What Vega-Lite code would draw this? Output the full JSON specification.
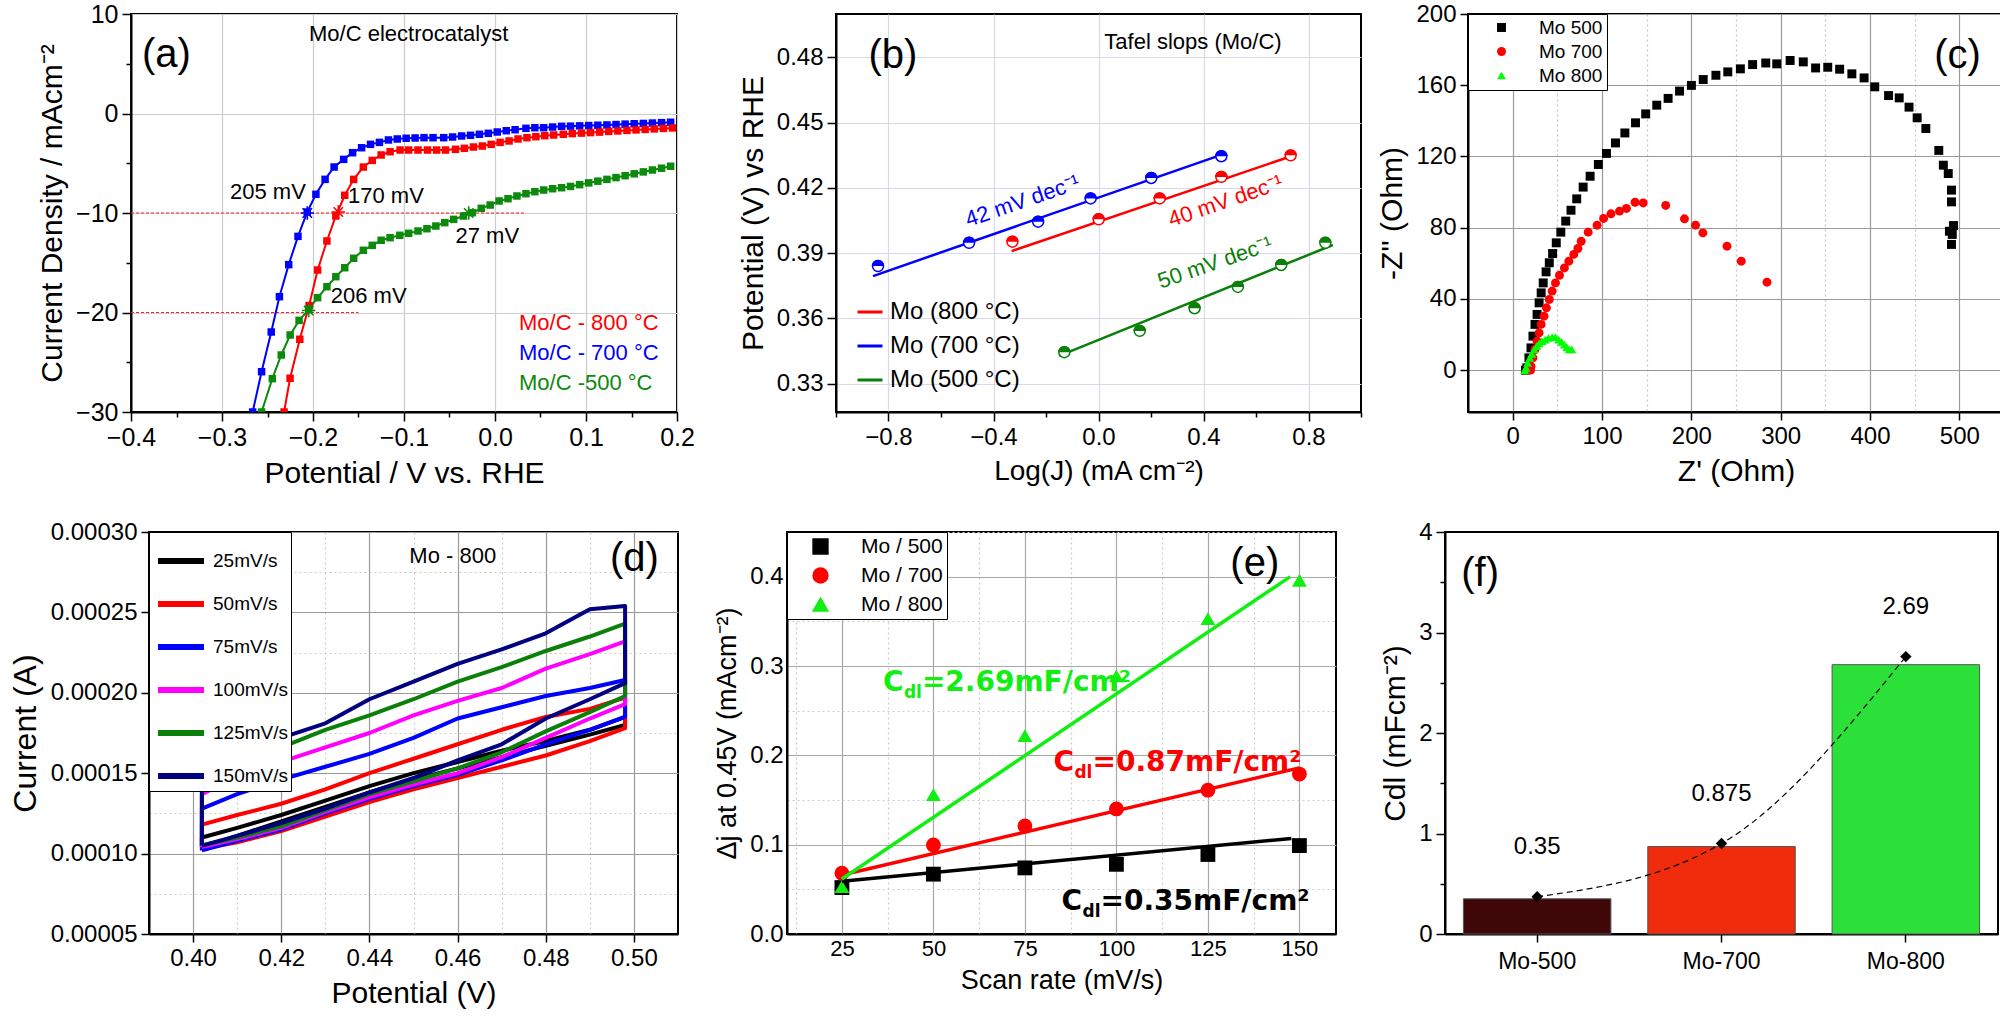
{
  "$schema": "https://vega.github.io/schema/vega-lite/v6.json",
  "background": "white",
  "padding": {"left": 8, "top": 1, "right": 0, "bottom": 0},
  "config": {
    "font": "Liberation Sans",
    "view": {"stroke": "black", "strokeWidth": 2},
    "axis": {
      "domainColor": "black", "domainWidth": 2, "tickColor": "black", "tickWidth": 1.5, "tickSize": 8,
      "labelColor": "black", "titleColor": "black", "labelFontSize": 24, "titleFontSize": 30,
      "titleFontWeight": "normal", "labelFlush": false, "labelOverlap": false, "labelPadding": 4,
      "titlePadding": 8, "gridColor": "#cccccc", "gridWidth": 1.2
    },
    "legend": {"labelColor": "black", "labelFont": "Liberation Sans"},
    "text": {"color": "black"}
  },
  "datasets": {
    "a_curves": [
      {"s":"700","x":-0.2663,"y":-30},{"s":"700","x":-0.2565,"y":-25.95},{"s":"700","x":-0.2459,"y":-21.96},{"s":"700","x":-0.2369,"y":-18.41},
      {"s":"700","x":-0.2267,"y":-15.19},{"s":"700","x":-0.2165,"y":-12.35},{"s":"700","x":-0.2063,"y":-9.9},{"s":"700","x":-0.1968,"y":-8.12},
      {"s":"700","x":-0.1867,"y":-6.62},{"s":"700","x":-0.1768,"y":-5.38},{"s":"700","x":-0.1663,"y":-4.61},{"s":"700","x":-0.1565,"y":-3.94},
      {"s":"700","x":-0.1466,"y":-3.44},{"s":"700","x":-0.1368,"y":-3.1},{"s":"700","x":-0.127,"y":-2.9},{"s":"700","x":-0.1171,"y":-2.66},
      {"s":"700","x":-0.1074,"y":-2.56},{"s":"700","x":-0.0976,"y":-2.49},{"s":"700","x":-0.0878,"y":-2.46},{"s":"700","x":-0.078,"y":-2.43},
      {"s":"700","x":-0.0681,"y":-2.43},{"s":"700","x":-0.0564,"y":-2.43},{"s":"700","x":-0.0466,"y":-2.36},{"s":"700","x":-0.0367,"y":-2.26},
      {"s":"700","x":-0.0269,"y":-2.19},{"s":"700","x":-0.0171,"y":-2.09},{"s":"700","x":-0.0073,"y":-1.99},{"s":"700","x":0.0025,"y":-1.86},
      {"s":"700","x":0.0124,"y":-1.73},{"s":"700","x":0.0221,"y":-1.63},{"s":"700","x":0.034,"y":-1.49},{"s":"700","x":0.0438,"y":-1.43},
      {"s":"700","x":0.0535,"y":-1.43},{"s":"700","x":0.0633,"y":-1.36},{"s":"700","x":0.0732,"y":-1.29},{"s":"700","x":0.083,"y":-1.27},
      {"s":"700","x":0.093,"y":-1.24},{"s":"700","x":0.103,"y":-1.21},{"s":"700","x":0.113,"y":-1.18},{"s":"700","x":0.123,"y":-1.15},
      {"s":"700","x":0.133,"y":-1.11},{"s":"700","x":0.143,"y":-1.07},{"s":"700","x":0.153,"y":-1.03},{"s":"700","x":0.163,"y":-1.0},
      {"s":"700","x":0.173,"y":-0.96},{"s":"700","x":0.183,"y":-0.92},{"s":"700","x":0.193,"y":-0.88},
      {"s":"800","x":-0.2318,"y":-30},{"s":"800","x":-0.2252,"y":-26.61},{"s":"800","x":-0.2145,"y":-22.69},{"s":"800","x":-0.2043,"y":-19.3},
      {"s":"800","x":-0.1949,"y":-15.73},{"s":"800","x":-0.1847,"y":-12.81},{"s":"800","x":-0.1749,"y":-10.3},{"s":"800","x":-0.1651,"y":-8.22},
      {"s":"800","x":-0.1553,"y":-6.62},{"s":"800","x":-0.1447,"y":-5.38},{"s":"800","x":-0.1349,"y":-4.71},{"s":"800","x":-0.1251,"y":-4.17},
      {"s":"800","x":-0.1153,"y":-3.84},{"s":"800","x":-0.1043,"y":-3.67},{"s":"800","x":-0.0949,"y":-3.67},{"s":"800","x":-0.0846,"y":-3.67},
      {"s":"800","x":-0.0741,"y":-3.67},{"s":"800","x":-0.0642,"y":-3.67},{"s":"800","x":-0.0544,"y":-3.67},{"s":"800","x":-0.0434,"y":-3.6},
      {"s":"800","x":-0.0336,"y":-3.5},{"s":"800","x":-0.0237,"y":-3.37},{"s":"800","x":-0.0139,"y":-3.27},{"s":"800","x":-0.0042,"y":-3.1},
      {"s":"800","x":0.0056,"y":-2.9},{"s":"800","x":0.0155,"y":-2.76},{"s":"800","x":0.0253,"y":-2.56},{"s":"800","x":0.0351,"y":-2.43},
      {"s":"800","x":0.0449,"y":-2.33},{"s":"800","x":0.0547,"y":-2.23},{"s":"800","x":0.0645,"y":-2.16},{"s":"800","x":0.0751,"y":-2.09},
      {"s":"800","x":0.085,"y":-2.02},{"s":"800","x":0.095,"y":-1.97},{"s":"800","x":0.105,"y":-1.92},{"s":"800","x":0.115,"y":-1.87},
      {"s":"800","x":0.125,"y":-1.8},{"s":"800","x":0.135,"y":-1.75},{"s":"800","x":0.145,"y":-1.7},{"s":"800","x":0.155,"y":-1.65},
      {"s":"800","x":0.165,"y":-1.6},{"s":"800","x":0.175,"y":-1.55},{"s":"800","x":0.185,"y":-1.5},{"s":"800","x":0.195,"y":-1.45},
      {"s":"500","x":-0.2565,"y":-30},{"s":"500","x":-0.2447,"y":-26.65},{"s":"500","x":-0.2349,"y":-24.27},{"s":"500","x":-0.2251,"y":-22.26},
      {"s":"500","x":-0.2153,"y":-20.79},{"s":"500","x":-0.2047,"y":-19.68},{"s":"500","x":-0.1949,"y":-18.51},{"s":"500","x":-0.1847,"y":-17.41},
      {"s":"500","x":-0.1749,"y":-16.4},{"s":"500","x":-0.1651,"y":-15.5},{"s":"500","x":-0.1553,"y":-14.55},{"s":"500","x":-0.1447,"y":-13.75},
      {"s":"500","x":-0.1349,"y":-13.25},{"s":"500","x":-0.1251,"y":-12.74},{"s":"500","x":-0.1153,"y":-12.48},{"s":"500","x":-0.1046,"y":-12.24},
      {"s":"500","x":-0.0949,"y":-12.04},{"s":"500","x":-0.0846,"y":-11.81},{"s":"500","x":-0.0748,"y":-11.58},{"s":"500","x":-0.065,"y":-11.31},
      {"s":"500","x":-0.0552,"y":-10.97},{"s":"500","x":-0.0454,"y":-10.64},{"s":"500","x":-0.0347,"y":-10.3},{"s":"500","x":-0.0249,"y":-9.97},
      {"s":"500","x":-0.0151,"y":-9.53},{"s":"500","x":-0.0053,"y":-9.2},{"s":"500","x":0.0045,"y":-8.79},{"s":"500","x":0.0143,"y":-8.56},
      {"s":"500","x":0.0241,"y":-8.29},{"s":"500","x":0.034,"y":-8.06},{"s":"500","x":0.0438,"y":-7.86},{"s":"500","x":0.0535,"y":-7.69},
      {"s":"500","x":0.0633,"y":-7.56},{"s":"500","x":0.0732,"y":-7.46},{"s":"500","x":0.083,"y":-7.33},{"s":"500","x":0.093,"y":-7.15},
      {"s":"500","x":0.103,"y":-6.97},{"s":"500","x":0.113,"y":-6.8},{"s":"500","x":0.123,"y":-6.62},{"s":"500","x":0.133,"y":-6.44},
      {"s":"500","x":0.143,"y":-6.25},{"s":"500","x":0.153,"y":-6.06},{"s":"500","x":0.163,"y":-5.87},{"s":"500","x":0.173,"y":-5.68},
      {"s":"500","x":0.183,"y":-5.5},{"s":"500","x":0.193,"y":-5.3}
    ],
    "b_pts": [
      {"s":"Mo (700 °C)","x":-0.84,"y":0.3841},{"s":"Mo (700 °C)","x":-0.493,"y":0.3948},{"s":"Mo (700 °C)","x":-0.23,"y":0.4045},
      {"s":"Mo (700 °C)","x":-0.03,"y":0.4152},{"s":"Mo (700 °C)","x":0.201,"y":0.4246},{"s":"Mo (700 °C)","x":0.468,"y":0.4346},
      {"s":"Mo (800 °C)","x":-0.328,"y":0.3953},{"s":"Mo (800 °C)","x":0.0006,"y":0.4056},{"s":"Mo (800 °C)","x":0.233,"y":0.4152},
      {"s":"Mo (800 °C)","x":0.468,"y":0.4251},{"s":"Mo (800 °C)","x":0.732,"y":0.435},
      {"s":"Mo (500 °C)","x":-0.13,"y":0.3445},{"s":"Mo (500 °C)","x":0.157,"y":0.3543},{"s":"Mo (500 °C)","x":0.366,"y":0.3647},
      {"s":"Mo (500 °C)","x":0.531,"y":0.3745},{"s":"Mo (500 °C)","x":0.696,"y":0.3846},{"s":"Mo (500 °C)","x":0.864,"y":0.3948}
    ],
    "b_fit": [
      {"s":"Mo (800 °C)","x":-0.331,"y":0.391},{"s":"Mo (800 °C)","x":0.734,"y":0.4346},
      {"s":"Mo (700 °C)","x":-0.859,"y":0.3795},{"s":"Mo (700 °C)","x":0.462,"y":0.435},
      {"s":"Mo (500 °C)","x":-0.15,"y":0.3428},{"s":"Mo (500 °C)","x":0.893,"y":0.3938}
    ],
    "c_pts": [
      {"s":"Mo 500","x":14.3,"y":0},{"s":"Mo 500","x":15.9,"y":1.3},{"s":"Mo 500","x":18.2,"y":6.9},{"s":"Mo 500","x":20.5,"y":12.5},
      {"s":"Mo 500","x":22.7,"y":19.1},{"s":"Mo 500","x":25,"y":25.7},{"s":"Mo 500","x":27.3,"y":31.3},{"s":"Mo 500","x":29.6,"y":37.8},
      {"s":"Mo 500","x":31.9,"y":43.4},{"s":"Mo 500","x":34.2,"y":49},{"s":"Mo 500","x":37.4,"y":55.2},{"s":"Mo 500","x":41,"y":60.3},
      {"s":"Mo 500","x":44.7,"y":65.5},{"s":"Mo 500","x":48.8,"y":71.5},{"s":"Mo 500","x":53.9,"y":77.5},{"s":"Mo 500","x":59.4,"y":83.7},
      {"s":"Mo 500","x":65.3,"y":89.8},{"s":"Mo 500","x":71.7,"y":96.2},{"s":"Mo 500","x":78.9,"y":102.8},{"s":"Mo 500","x":86.7,"y":108.9},
      {"s":"Mo 500","x":95.9,"y":115.5},{"s":"Mo 500","x":105,"y":121.7},{"s":"Mo 500","x":115.1,"y":127.6},{"s":"Mo 500","x":125.6,"y":133.2},
      {"s":"Mo 500","x":137.5,"y":138.9},{"s":"Mo 500","x":148.9,"y":143.9},{"s":"Mo 500","x":161.3,"y":148.8},{"s":"Mo 500","x":174,"y":152.6},
      {"s":"Mo 500","x":186.8,"y":156.7},{"s":"Mo 500","x":200.1,"y":159.9},{"s":"Mo 500","x":213.3,"y":163.2},{"s":"Mo 500","x":227.5,"y":165.6},
      {"s":"Mo 500","x":240.8,"y":167.5},{"s":"Mo 500","x":254.9,"y":169.2},{"s":"Mo 500","x":268.6,"y":171.6},{"s":"Mo 500","x":283.3,"y":172.5},
      {"s":"Mo 500","x":295.6,"y":172},{"s":"Mo 500","x":310.6,"y":173.9},{"s":"Mo 500","x":325.3,"y":173.1},{"s":"Mo 500","x":339.1,"y":169.7},
      {"s":"Mo 500","x":352.7,"y":170.1},{"s":"Mo 500","x":366,"y":169},{"s":"Mo 500","x":379.7,"y":166.4},{"s":"Mo 500","x":393.4,"y":164.1},
      {"s":"Mo 500","x":405.3,"y":159.1},{"s":"Mo 500","x":420.8,"y":154.2},{"s":"Mo 500","x":432.7,"y":152.9},{"s":"Mo 500","x":443.7,"y":147.7},
      {"s":"Mo 500","x":452.8,"y":141.7},{"s":"Mo 500","x":462.5,"y":135.7},{"s":"Mo 500","x":477,"y":123.4},{"s":"Mo 500","x":482.1,"y":115.1},
      {"s":"Mo 500","x":487.6,"y":110.4},{"s":"Mo 500","x":491.2,"y":101.1},{"s":"Mo 500","x":491.2,"y":94.5},{"s":"Mo 500","x":493.5,"y":81.2},
      {"s":"Mo 500","x":488.9,"y":78},{"s":"Mo 500","x":492.1,"y":76.2},{"s":"Mo 500","x":491.2,"y":70.6},
      {"s":"Mo 700","x":20,"y":0},{"s":"Mo 700","x":20.5,"y":2.2},{"s":"Mo 700","x":22.7,"y":6.9},{"s":"Mo 700","x":25,"y":11.6},
      {"s":"Mo 700","x":27.3,"y":16.3},{"s":"Mo 700","x":29.6,"y":20.9},{"s":"Mo 700","x":31.9,"y":25.7},{"s":"Mo 700","x":35.1,"y":30.3},
      {"s":"Mo 700","x":37.8,"y":35},{"s":"Mo 700","x":41,"y":39.7},{"s":"Mo 700","x":44.2,"y":44.4},{"s":"Mo 700","x":47.9,"y":49},
      {"s":"Mo 700","x":52.4,"y":53.3},{"s":"Mo 700","x":57.9,"y":57.4},{"s":"Mo 700","x":62.9,"y":61.2},{"s":"Mo 700","x":68.4,"y":65},
      {"s":"Mo 700","x":73,"y":68.3},{"s":"Mo 700","x":76.7,"y":72.4},{"s":"Mo 700","x":84.5,"y":77.5},{"s":"Mo 700","x":94.5,"y":81.4},
      {"s":"Mo 700","x":101.8,"y":85.2},{"s":"Mo 700","x":110,"y":87.8},{"s":"Mo 700","x":119.6,"y":89.3},{"s":"Mo 700","x":127.4,"y":90.8},
      {"s":"Mo 700","x":137,"y":94.3},{"s":"Mo 700","x":146.1,"y":93.9},{"s":"Mo 700","x":171.3,"y":92.5},{"s":"Mo 700","x":192.3,"y":85},
      {"s":"Mo 700","x":204.7,"y":81.4},{"s":"Mo 700","x":212.9,"y":77.1},{"s":"Mo 700","x":239.9,"y":69.6},{"s":"Mo 700","x":255.9,"y":61.2},
      {"s":"Mo 700","x":284.7,"y":49.4},
      {"s":"Mo 800","x":13.4,"y":0},{"s":"Mo 800","x":15,"y":1.3},{"s":"Mo 800","x":16.8,"y":4.1},{"s":"Mo 800","x":19.1,"y":6.9},
      {"s":"Mo 800","x":21.4,"y":9.2},{"s":"Mo 800","x":24.1,"y":11.6},{"s":"Mo 800","x":26.9,"y":13.5},{"s":"Mo 800","x":29.6,"y":15},
      {"s":"Mo 800","x":32.8,"y":16.3},{"s":"Mo 800","x":36.5,"y":17.2},{"s":"Mo 800","x":40.1,"y":18.1},{"s":"Mo 800","x":44.2,"y":18.5},
      {"s":"Mo 800","x":47.9,"y":18.5},{"s":"Mo 800","x":51.5,"y":17.2},{"s":"Mo 800","x":54.8,"y":15.9},{"s":"Mo 800","x":57.9,"y":14.4},
      {"s":"Mo 800","x":60.7,"y":12.9},{"s":"Mo 800","x":63.4,"y":11.6},{"s":"Mo 800","x":66.2,"y":11.6}
    ],
    "d_cv": [
      {"r":"25mV/s","i":0,"x":0.402,"y":0.000104},{"r":"25mV/s","i":1,"x":0.41,"y":0.000111},{"r":"25mV/s","i":2,"x":0.42,"y":0.00012},
      {"r":"25mV/s","i":3,"x":0.43,"y":0.000129},{"r":"25mV/s","i":4,"x":0.44,"y":0.000138},{"r":"25mV/s","i":5,"x":0.45,"y":0.000146},
      {"r":"25mV/s","i":6,"x":0.46,"y":0.000153},{"r":"25mV/s","i":7,"x":0.47,"y":0.00016},{"r":"25mV/s","i":8,"x":0.48,"y":0.000167},
      {"r":"25mV/s","i":9,"x":0.49,"y":0.000174},{"r":"25mV/s","i":10,"x":0.498,"y":0.00018},{"r":"25mV/s","i":11,"x":0.498,"y":0.000185},
      {"r":"25mV/s","i":12,"x":0.49,"y":0.000177},{"r":"25mV/s","i":13,"x":0.48,"y":0.00017},{"r":"25mV/s","i":14,"x":0.47,"y":0.000164},
      {"r":"25mV/s","i":15,"x":0.46,"y":0.000157},{"r":"25mV/s","i":16,"x":0.45,"y":0.00015},{"r":"25mV/s","i":17,"x":0.44,"y":0.000142},
      {"r":"25mV/s","i":18,"x":0.43,"y":0.000133},{"r":"25mV/s","i":19,"x":0.42,"y":0.000124},{"r":"25mV/s","i":20,"x":0.41,"y":0.000116},
      {"r":"25mV/s","i":21,"x":0.402,"y":0.00011},{"r":"25mV/s","i":22,"x":0.402,"y":0.000104},
      {"r":"50mV/s","i":0,"x":0.402,"y":0.000103},{"r":"50mV/s","i":1,"x":0.41,"y":0.000107},{"r":"50mV/s","i":2,"x":0.42,"y":0.000114},
      {"r":"50mV/s","i":3,"x":0.43,"y":0.000123},{"r":"50mV/s","i":4,"x":0.44,"y":0.000132},{"r":"50mV/s","i":5,"x":0.45,"y":0.00014},
      {"r":"50mV/s","i":6,"x":0.46,"y":0.000147},{"r":"50mV/s","i":7,"x":0.47,"y":0.000154},{"r":"50mV/s","i":8,"x":0.48,"y":0.000161},
      {"r":"50mV/s","i":9,"x":0.49,"y":0.00017},{"r":"50mV/s","i":10,"x":0.498,"y":0.000178},{"r":"50mV/s","i":11,"x":0.498,"y":0.000197},
      {"r":"50mV/s","i":12,"x":0.49,"y":0.00019},{"r":"50mV/s","i":13,"x":0.48,"y":0.000185},{"r":"50mV/s","i":14,"x":0.47,"y":0.000177},
      {"r":"50mV/s","i":15,"x":0.46,"y":0.000168},{"r":"50mV/s","i":16,"x":0.45,"y":0.000159},{"r":"50mV/s","i":17,"x":0.44,"y":0.00015},
      {"r":"50mV/s","i":18,"x":0.43,"y":0.00014},{"r":"50mV/s","i":19,"x":0.42,"y":0.000131},{"r":"50mV/s","i":20,"x":0.41,"y":0.000124},
      {"r":"50mV/s","i":21,"x":0.402,"y":0.000118},{"r":"50mV/s","i":22,"x":0.402,"y":0.000103},
      {"r":"75mV/s","i":0,"x":0.402,"y":0.000102},{"r":"75mV/s","i":1,"x":0.41,"y":0.000108},{"r":"75mV/s","i":2,"x":0.42,"y":0.000115},
      {"r":"75mV/s","i":3,"x":0.43,"y":0.000125},{"r":"75mV/s","i":4,"x":0.44,"y":0.000134},{"r":"75mV/s","i":5,"x":0.45,"y":0.000142},
      {"r":"75mV/s","i":6,"x":0.46,"y":0.000149},{"r":"75mV/s","i":7,"x":0.47,"y":0.000158},{"r":"75mV/s","i":8,"x":0.48,"y":0.000168},
      {"r":"75mV/s","i":9,"x":0.49,"y":0.000177},{"r":"75mV/s","i":10,"x":0.498,"y":0.000185},{"r":"75mV/s","i":11,"x":0.498,"y":0.000208},
      {"r":"75mV/s","i":12,"x":0.49,"y":0.000203},{"r":"75mV/s","i":13,"x":0.48,"y":0.000198},{"r":"75mV/s","i":14,"x":0.47,"y":0.000191},
      {"r":"75mV/s","i":15,"x":0.46,"y":0.000184},{"r":"75mV/s","i":16,"x":0.45,"y":0.000172},{"r":"75mV/s","i":17,"x":0.44,"y":0.000162},
      {"r":"75mV/s","i":18,"x":0.43,"y":0.000154},{"r":"75mV/s","i":19,"x":0.42,"y":0.000146},{"r":"75mV/s","i":20,"x":0.41,"y":0.000137},
      {"r":"75mV/s","i":21,"x":0.402,"y":0.000128},{"r":"75mV/s","i":22,"x":0.402,"y":0.000102},
      {"r":"100mV/s","i":0,"x":0.402,"y":0.000104},{"r":"100mV/s","i":1,"x":0.41,"y":0.000109},{"r":"100mV/s","i":2,"x":0.42,"y":0.000116},
      {"r":"100mV/s","i":3,"x":0.43,"y":0.000126},{"r":"100mV/s","i":4,"x":0.44,"y":0.000135},{"r":"100mV/s","i":5,"x":0.45,"y":0.000143},
      {"r":"100mV/s","i":6,"x":0.46,"y":0.00015},{"r":"100mV/s","i":7,"x":0.47,"y":0.00016},{"r":"100mV/s","i":8,"x":0.48,"y":0.000172},
      {"r":"100mV/s","i":9,"x":0.49,"y":0.000184},{"r":"100mV/s","i":10,"x":0.498,"y":0.000193},{"r":"100mV/s","i":11,"x":0.498,"y":0.000232},
      {"r":"100mV/s","i":12,"x":0.49,"y":0.000224},{"r":"100mV/s","i":13,"x":0.48,"y":0.000215},{"r":"100mV/s","i":14,"x":0.47,"y":0.000203},
      {"r":"100mV/s","i":15,"x":0.46,"y":0.000195},{"r":"100mV/s","i":16,"x":0.45,"y":0.000186},{"r":"100mV/s","i":17,"x":0.44,"y":0.000175},
      {"r":"100mV/s","i":18,"x":0.43,"y":0.000166},{"r":"100mV/s","i":19,"x":0.42,"y":0.000157},{"r":"100mV/s","i":20,"x":0.41,"y":0.000148},
      {"r":"100mV/s","i":21,"x":0.402,"y":0.000137},{"r":"100mV/s","i":22,"x":0.402,"y":0.000104},
      {"r":"125mV/s","i":0,"x":0.402,"y":0.000105},{"r":"125mV/s","i":1,"x":0.41,"y":0.00011},{"r":"125mV/s","i":2,"x":0.42,"y":0.000117},
      {"r":"125mV/s","i":3,"x":0.43,"y":0.000127},{"r":"125mV/s","i":4,"x":0.44,"y":0.000137},{"r":"125mV/s","i":5,"x":0.45,"y":0.000145},
      {"r":"125mV/s","i":6,"x":0.46,"y":0.000153},{"r":"125mV/s","i":7,"x":0.47,"y":0.000163},{"r":"125mV/s","i":8,"x":0.48,"y":0.000176},
      {"r":"125mV/s","i":9,"x":0.49,"y":0.000188},{"r":"125mV/s","i":10,"x":0.498,"y":0.000198},{"r":"125mV/s","i":11,"x":0.498,"y":0.000243},
      {"r":"125mV/s","i":12,"x":0.49,"y":0.000235},{"r":"125mV/s","i":13,"x":0.48,"y":0.000226},{"r":"125mV/s","i":14,"x":0.47,"y":0.000216},
      {"r":"125mV/s","i":15,"x":0.46,"y":0.000207},{"r":"125mV/s","i":16,"x":0.45,"y":0.000196},{"r":"125mV/s","i":17,"x":0.44,"y":0.000186},
      {"r":"125mV/s","i":18,"x":0.43,"y":0.000177},{"r":"125mV/s","i":19,"x":0.42,"y":0.000166},{"r":"125mV/s","i":20,"x":0.41,"y":0.000155},
      {"r":"125mV/s","i":21,"x":0.402,"y":0.000143},{"r":"125mV/s","i":22,"x":0.402,"y":0.000105},
      {"r":"150mV/s","i":0,"x":0.402,"y":0.000105},{"r":"150mV/s","i":1,"x":0.41,"y":0.000111},{"r":"150mV/s","i":2,"x":0.42,"y":0.000119},
      {"r":"150mV/s","i":3,"x":0.43,"y":0.000128},{"r":"150mV/s","i":4,"x":0.44,"y":0.000138},{"r":"150mV/s","i":5,"x":0.45,"y":0.000147},
      {"r":"150mV/s","i":6,"x":0.46,"y":0.000158},{"r":"150mV/s","i":7,"x":0.47,"y":0.000168},{"r":"150mV/s","i":8,"x":0.48,"y":0.000184},
      {"r":"150mV/s","i":9,"x":0.49,"y":0.000196},{"r":"150mV/s","i":10,"x":0.498,"y":0.000206},{"r":"150mV/s","i":11,"x":0.498,"y":0.000254},
      {"r":"150mV/s","i":12,"x":0.49,"y":0.000252},{"r":"150mV/s","i":13,"x":0.48,"y":0.000237},{"r":"150mV/s","i":14,"x":0.47,"y":0.000227},
      {"r":"150mV/s","i":15,"x":0.46,"y":0.000218},{"r":"150mV/s","i":16,"x":0.45,"y":0.000207},{"r":"150mV/s","i":17,"x":0.44,"y":0.000196},
      {"r":"150mV/s","i":18,"x":0.43,"y":0.000181},{"r":"150mV/s","i":19,"x":0.42,"y":0.000172},{"r":"150mV/s","i":20,"x":0.41,"y":0.000158},
      {"r":"150mV/s","i":21,"x":0.402,"y":0.00015},{"r":"150mV/s","i":22,"x":0.402,"y":0.000105}
    ],
    "e_pts": [
      {"s":"Mo / 500","x":25,"y":0.052},{"s":"Mo / 500","x":50,"y":0.067},{"s":"Mo / 500","x":75,"y":0.074},
      {"s":"Mo / 500","x":100,"y":0.078},{"s":"Mo / 500","x":125,"y":0.089},{"s":"Mo / 500","x":150,"y":0.099},
      {"s":"Mo / 700","x":25,"y":0.068},{"s":"Mo / 700","x":50,"y":0.0997},{"s":"Mo / 700","x":75,"y":0.121},
      {"s":"Mo / 700","x":100,"y":0.14},{"s":"Mo / 700","x":125,"y":0.161},{"s":"Mo / 700","x":150,"y":0.179},
      {"s":"Mo / 800","x":25,"y":0.053},{"s":"Mo / 800","x":50,"y":0.156},{"s":"Mo / 800","x":75,"y":0.222},
      {"s":"Mo / 800","x":100,"y":0.289},{"s":"Mo / 800","x":125,"y":0.353},{"s":"Mo / 800","x":150,"y":0.396}
    ],
    "e_fit": [
      {"s":"Mo / 500","x":25,"y":0.059},{"s":"Mo / 500","x":147.8,"y":0.107},
      {"s":"Mo / 700","x":25,"y":0.066},{"s":"Mo / 700","x":150,"y":0.186},
      {"s":"Mo / 800","x":25,"y":0.0615},{"s":"Mo / 800","x":147.5,"y":0.4}
    ],
    "e_cdl": [
      {"s":"Mo / 800","x":36.2,"y":0.272,"t":"=2.69mF/cm²"},
      {"s":"Mo / 700","x":82.8,"y":0.182,"t":"=0.87mF/cm²"},
      {"s":"Mo / 500","x":85,"y":0.027,"t":"=0.35mF/cm²"}
    ],
    "f_cdl": [
      {"s":"Mo-500","v":0.35,"m":0.37,"lbl":"0.35"},
      {"s":"Mo-700","v":0.87,"m":0.9,"lbl":"0.875"},
      {"s":"Mo-800","v":2.68,"m":2.76,"lbl":"2.69"}
    ]
  },
  "vconcat": [
    {
      "hconcat": [
        {
          "width": 546, "height": 398,
          "layer": [
            {
              "data": {"values": [{"x": -0.4, "x2": 0.034, "y": -10}, {"x": -0.4, "x2": -0.15, "y": -20}]},
              "mark": {"type": "rule", "color": "#ff2020", "strokeDash": [3, 2], "strokeWidth": 1.2},
              "encoding": {
                "x": {"field": "x", "type": "quantitative", "scale": {"domain": [-0.4, 0.2], "nice": false, "zero": false},
                  "axis": {"title": "Potential / V vs. RHE", "titleFontSize": 30, "labelFontSize": 25,
                    "values": [-0.4, -0.35, -0.3, -0.25, -0.2, -0.15, -0.1, -0.05, 0, 0.05, 0.1, 0.15, 0.2],
                    "labelExpr": "abs(round(datum.value * 100)) % 10 == 0 ? format(datum.value, '.1f') : ''",
                    "tickSize": {"condition": {"test": "abs(round(datum.value * 100)) % 10 != 0", "value": 5}, "value": 9},
                    "gridOpacity": {"condition": {"test": "abs(round(datum.value * 100)) % 10 != 0", "value": 0}, "value": 1}}},
                "x2": {"field": "x2"},
                "y": {"field": "y", "type": "quantitative", "scale": {"domain": [-30, 10], "nice": false, "zero": false},
                  "axis": {"title": "Current Density / mAcm⁻²", "titleFontSize": 30, "labelFontSize": 25,
                    "values": [-30, -25, -20, -15, -10, -5, 0, 5, 10],
                    "labelExpr": "datum.value % 10 == 0 ? format(datum.value, 'd') : ''",
                    "tickSize": {"condition": {"test": "datum.value % 10 != 0", "value": 5}, "value": 9},
                    "gridOpacity": {"condition": {"test": "datum.value % 10 != 0", "value": 0}, "value": 1}}}
              }
            },
            {
              "data": {"name": "a_curves"},
              "mark": {"type": "line", "strokeWidth": 2, "clip": true},
              "encoding": {
                "x": {"field": "x", "type": "quantitative"},
                "y": {"field": "y", "type": "quantitative"},
                "color": {"field": "s", "type": "nominal",
                  "scale": {"domain": ["800", "700", "500"], "range": ["#ff0000", "#0000ff", "#0c8a0c"]},
                  "legend": {"title": null, "orient": "bottom-right", "offset": 12, "padding": 6,
                    "symbolOpacity": 0, "symbolSize": 1, "labelOffset": 0, "labelFontSize": 22, "rowPadding": 8,
                    "labelExpr": "datum.label == '500' ? 'Mo/C -500 °C' : 'Mo/C - ' + datum.label + ' °C'",
                    "encode": {"labels": {"update": {"fill": {"signal": "datum.value == '800' ? '#ff0000' : datum.value == '700' ? '#0000ff' : '#0c8a0c'"}}}}}}
              }
            },
            {
              "data": {"name": "a_curves"},
              "mark": {"type": "square", "size": 56, "opacity": 1, "clip": true},
              "encoding": {
                "x": {"field": "x", "type": "quantitative"},
                "y": {"field": "y", "type": "quantitative"},
                "color": {"field": "s", "type": "nominal"}
              }
            },
            {
              "data": {"values": [{"s": "700", "x": -0.2063, "y": -10}, {"s": "800", "x": -0.1722, "y": -9.9}, {"s": "500", "x": -0.0289, "y": -10}, {"s": "500", "x": -0.2047, "y": -19.8}]},
              "mark": {"type": "point", "shape": "M-1,0L1,0M0,-1L0,1M-0.7,-0.7L0.7,0.7M-0.7,0.7L0.7,-0.7", "size": 180, "strokeWidth": 1.6, "filled": false, "opacity": 1},
              "encoding": {
                "x": {"field": "x", "type": "quantitative"},
                "y": {"field": "y", "type": "quantitative"},
                "color": {"field": "s", "type": "nominal"}
              }
            },
            {
              "data": {"values": [
                {"x": -0.0949, "y": 7.99, "t": "Mo/C electrocatalyst"},
                {"x": -0.2495, "y": -7.86, "t": "205 mV"},
                {"x": -0.1199, "y": -8.29, "t": "170 mV"},
                {"x": -0.0085, "y": -12.31, "t": "27 mV"},
                {"x": -0.1388, "y": -18.34, "t": "206 mV"}
              ]},
              "mark": {"type": "text", "fontSize": 22, "align": "center", "baseline": "middle"},
              "encoding": {
                "x": {"field": "x", "type": "quantitative"},
                "y": {"field": "y", "type": "quantitative"},
                "text": {"field": "t"}
              }
            },
            {
              "data": {"values": [{"x": -0.388, "y": 5.9, "t": "(a)"}]},
              "mark": {"type": "text", "fontSize": 40, "align": "left", "baseline": "middle"},
              "encoding": {
                "x": {"field": "x", "type": "quantitative"},
                "y": {"field": "y", "type": "quantitative"},
                "text": {"field": "t"}
              }
            }
          ]
        },
        {
          "hconcat": [
            {
              "width": 525, "height": 398,
              "layer": [
                {
                  "data": {"name": "b_fit"},
                  "mark": {"type": "line", "strokeWidth": 2.5},
                  "encoding": {
                    "x": {"field": "x", "type": "quantitative", "scale": {"domain": [-1, 1], "nice": false, "zero": false},
                      "axis": {"title": "Log(J) (mA cm⁻²)", "titleFontSize": 28, "gridColor": "#d8daea",
                        "values": [-1, -0.8, -0.6, -0.4, -0.2, 0, 0.2, 0.4, 0.6, 0.8, 1],
                        "labelExpr": "abs(round(datum.value * 10)) % 4 == 0 ? format(datum.value, '.1f') : ''",
                        "tickSize": {"condition": {"test": "abs(round(datum.value * 10)) % 4 != 0", "value": 5}, "value": 9},
                        "gridOpacity": {"condition": {"test": "abs(round(datum.value * 10)) % 4 != 0", "value": 0}, "value": 1}}},
                    "y": {"field": "y", "type": "quantitative", "scale": {"domain": [0.317, 0.5], "nice": false, "zero": false},
                      "axis": {"title": "Potential (V) vs RHE", "titleFontSize": 30, "gridColor": "#d8daea",
                        "values": [0.33, 0.345, 0.36, 0.375, 0.39, 0.405, 0.42, 0.435, 0.45, 0.465, 0.48, 0.495],
                        "labelExpr": "round(datum.value * 1000) % 30 == 0 ? format(datum.value, '.2f') : ''",
                        "tickSize": {"condition": {"test": "round(datum.value * 1000) % 30 != 0", "value": 5}, "value": 9},
                        "gridOpacity": {"condition": {"test": "round(datum.value * 1000) % 30 != 0", "value": 0}, "value": 1}}},
                    "color": {"field": "s", "type": "nominal",
                      "scale": {"domain": ["Mo (800 °C)", "Mo (700 °C)", "Mo (500 °C)"], "range": ["#ff0000", "#0000ff", "#0a800a"]},
                      "legend": {"title": null, "orient": "bottom-left", "offset": 10, "padding": 10, "symbolType": "stroke",
                        "symbolSize": 625, "symbolStrokeWidth": 3, "labelFontSize": 24, "rowPadding": 8, "labelOffset": 6}}
                  }
                },
                {
                  "data": {"name": "b_pts"},
                  "mark": {"type": "point", "shape": "circle", "filled": false, "fill": "white", "fillOpacity": 1, "opacity": 1, "size": 120, "strokeWidth": 1.5},
                  "encoding": {
                    "x": {"field": "x", "type": "quantitative"},
                    "y": {"field": "y", "type": "quantitative"},
                    "color": {"field": "s", "type": "nominal"}
                  }
                },
                {
                  "data": {"name": "b_pts"},
                  "mark": {"type": "point", "shape": "M-1,0A1,1,0,0,1,1,0Z", "filled": true, "opacity": 1, "size": 154},
                  "encoding": {
                    "x": {"field": "x", "type": "quantitative"},
                    "y": {"field": "y", "type": "quantitative"},
                    "color": {"field": "s", "type": "nominal"}
                  }
                },
                {
                  "data": {"values": [
                    {"x": -0.29, "y": 0.414, "s": "Mo (700 °C)", "t": "42 mV dec⁻¹"},
                    {"x": 0.484, "y": 0.414, "s": "Mo (800 °C)", "t": "40 mV dec⁻¹"},
                    {"x": 0.444, "y": 0.3857, "s": "Mo (500 °C)", "t": "50 mV dec⁻¹"}
                  ]},
                  "mark": {"type": "text", "fontSize": 22, "angle": -19, "align": "center", "baseline": "middle"},
                  "encoding": {
                    "x": {"field": "x", "type": "quantitative"},
                    "y": {"field": "y", "type": "quantitative"},
                    "color": {"field": "s", "type": "nominal"},
                    "text": {"field": "t"}
                  }
                },
                {
                  "data": {"values": [{"x": 0.36, "y": 0.4873, "t": "Tafel slops (Mo/C)"}]},
                  "mark": {"type": "text", "fontSize": 22, "align": "center", "baseline": "middle"},
                  "encoding": {
                    "x": {"field": "x", "type": "quantitative"},
                    "y": {"field": "y", "type": "quantitative"},
                    "text": {"field": "t"}
                  }
                },
                {
                  "data": {"values": [{"x": -0.783, "y": 0.4805, "t": "(b)"}]},
                  "mark": {"type": "text", "fontSize": 40, "align": "center", "baseline": "middle"},
                  "encoding": {
                    "x": {"field": "x", "type": "quantitative"},
                    "y": {"field": "y", "type": "quantitative"},
                    "text": {"field": "t"}
                  }
                }
              ]
            },
            {
              "width": 536, "height": 398,
              "layer": [
                {
                  "data": {"name": "c_pts"},
                  "mark": {"type": "point", "filled": true, "opacity": 1, "size": 80},
                  "encoding": {
                    "x": {"field": "x", "type": "quantitative", "scale": {"domain": [-50, 550], "nice": false, "zero": false},
                      "axis": {"title": "Z' (Ohm)", "titleFontSize": 30,
                        "values": [0, 50, 100, 150, 200, 250, 300, 350, 400, 450, 500],
                        "labelExpr": "datum.value % 100 == 0 ? datum.label : ''",
                        "tickSize": {"condition": {"test": "datum.value % 100 != 0", "value": 0}, "value": 8},
                        "gridColor": {"condition": {"test": "datum.value % 100 != 0", "value": "#c4c4c4"}, "value": "#9a9a9a"},
                        "gridDash": {"condition": {"test": "datum.value % 100 != 0", "value": [2, 3]}, "value": []}}},
                    "y": {"field": "y", "type": "quantitative", "scale": {"domain": [-23.5, 200], "nice": false, "zero": false},
                      "axis": {"title": "-Z'' (Ohm)", "titleFontSize": 30,
                        "values": [0, 20, 40, 60, 80, 100, 120, 140, 160, 180, 200],
                        "labelExpr": "datum.value % 40 == 0 ? datum.label : ''",
                        "tickSize": {"condition": {"test": "datum.value % 40 != 0", "value": 0}, "value": 8},
                        "gridColor": {"condition": {"test": "datum.value % 40 != 0", "value": "#c4c4c4"}, "value": "#9a9a9a"},
                        "gridDash": {"condition": {"test": "datum.value % 40 != 0", "value": [2, 3]}, "value": []}}},
                    "color": {"field": "s", "type": "nominal",
                      "scale": {"domain": ["Mo 500", "Mo 700", "Mo 800"], "range": ["#000000", "#ff0000", "#00ff00"]},
                      "legend": {"title": null, "orient": "top-left", "offset": 0, "padding": 4, "strokeColor": "black",
                        "fillColor": "white", "symbolSize": 80, "symbolOffset": 20, "labelOffset": 28, "labelFontSize": 19, "rowPadding": 4}},
                    "shape": {"field": "s", "type": "nominal",
                      "scale": {"domain": ["Mo 500", "Mo 700", "Mo 800"], "range": ["square", "circle", "triangle-up"]},
                      "legend": {"title": null, "orient": "top-left", "offset": 0, "padding": 4, "strokeColor": "black",
                        "fillColor": "white", "symbolSize": 80, "symbolOffset": 20, "labelOffset": 28, "labelFontSize": 19, "rowPadding": 4}}
                  }
                },
                {
                  "data": {"values": [{"x": 498, "y": 176.3, "t": "(c)"}]},
                  "mark": {"type": "text", "fontSize": 40, "align": "center", "baseline": "middle"},
                  "encoding": {
                    "x": {"field": "x", "type": "quantitative"},
                    "y": {"field": "y", "type": "quantitative"},
                    "text": {"field": "t"}
                  }
                }
              ]
            }
          ],
          "spacing": 107,
          "bounds": "flush",
          "resolve": {"scale": {"color": "independent", "shape": "independent"}, "legend": {"color": "independent", "shape": "independent"}}
        }
      ],
      "spacing": 159,
      "bounds": "flush",
      "resolve": {"scale": {"color": "independent", "shape": "independent"}, "legend": {"color": "independent", "shape": "independent"}}
    },
    {
      "hconcat": [
        {
          "width": 18, "height": 10,
          "data": {"values": [{}]},
          "mark": {"type": "point", "opacity": 0},
          "encoding": {},
          "view": {"stroke": null}
        },
        {
          "hconcat": [
            {
              "width": 529, "height": 402,
              "layer": [
                {
                  "data": {"name": "d_cv"},
                  "mark": {"type": "line", "strokeWidth": 4, "strokeJoin": "round"},
                  "encoding": {
                    "x": {"field": "x", "type": "quantitative", "scale": {"domain": [0.39, 0.51], "nice": false, "zero": false},
                      "axis": {"title": "Potential (V)", "titleFontSize": 30,
                        "values": [0.4, 0.41, 0.42, 0.43, 0.44, 0.45, 0.46, 0.47, 0.48, 0.49, 0.5],
                        "labelExpr": "round(datum.value * 100) % 2 == 0 ? format(datum.value, '.2f') : ''",
                        "tickSize": {"condition": {"test": "round(datum.value * 100) % 2 != 0", "value": 0}, "value": 8},
                        "gridColor": {"condition": {"test": "round(datum.value * 100) % 2 != 0", "value": "#cccccc"}, "value": "#9a9a9a"},
                        "gridDash": {"condition": {"test": "round(datum.value * 100) % 2 != 0", "value": [2, 3]}, "value": []}}},
                    "y": {"field": "y", "type": "quantitative", "scale": {"domain": [0.00005, 0.0003], "nice": false, "zero": false},
                      "axis": {"title": "Current (A)", "titleFontSize": 32,
                        "values": [0.00005, 0.000075, 0.0001, 0.000125, 0.00015, 0.000175, 0.0002, 0.000225, 0.00025, 0.000275, 0.0003],
                        "labelExpr": "round(datum.value * 1000000) % 50 == 0 ? format(datum.value, '.5f') : ''",
                        "tickSize": {"condition": {"test": "round(datum.value * 1000000) % 50 != 0", "value": 0}, "value": 8},
                        "gridColor": {"condition": {"test": "round(datum.value * 1000000) % 50 != 0", "value": "#cccccc"}, "value": "#9a9a9a"},
                        "gridDash": {"condition": {"test": "round(datum.value * 1000000) % 50 != 0", "value": [2, 3]}, "value": []}}},
                    "color": {"field": "r", "type": "nominal",
                      "scale": {"domain": ["25mV/s", "50mV/s", "75mV/s", "100mV/s", "125mV/s", "150mV/s"],
                        "range": ["#000000", "#ff0000", "#0000ff", "#ff00ff", "#0a800a", "#000080"]},
                      "legend": {"title": null, "orient": "top-left", "offset": 0, "padding": 3, "strokeColor": "black",
                        "fillColor": "white", "symbolType": "stroke", "symbolSize": 2116, "symbolStrokeWidth": 6,
                        "symbolOffset": 3, "labelOffset": 6, "labelFontSize": 19, "rowPadding": 5}},
                    "order": {"field": "i", "type": "quantitative"}
                  }
                },
                {
                  "data": {"values": [{"x": 0.4589, "y": 0.0002853, "t": "Mo - 800"}]},
                  "mark": {"type": "text", "fontSize": 22, "align": "center", "baseline": "middle"},
                  "encoding": {
                    "x": {"field": "x", "type": "quantitative"},
                    "y": {"field": "y", "type": "quantitative"},
                    "text": {"field": "t"}
                  }
                },
                {
                  "data": {"values": [{"x": 0.5001, "y": 0.0002832, "t": "(d)"}]},
                  "mark": {"type": "text", "fontSize": 40, "align": "center", "baseline": "middle"},
                  "encoding": {
                    "x": {"field": "x", "type": "quantitative"},
                    "y": {"field": "y", "type": "quantitative"},
                    "text": {"field": "t"}
                  }
                }
              ]
            },
            {
              "width": 549, "height": 402,
              "layer": [
                {
                  "data": {"name": "e_pts"},
                  "mark": {"type": "point", "filled": true, "opacity": 1, "size": 220},
                  "encoding": {
                    "x": {"field": "x", "type": "quantitative", "scale": {"domain": [10, 160], "nice": false, "zero": false},
                      "axis": {"title": "Scan rate (mV/s)", "titleFontSize": 27, "labelFontSize": 22, "ticks": false,
                        "values": [12.5, 25, 37.5, 50, 62.5, 75, 87.5, 100, 112.5, 125, 137.5, 150],
                        "labelExpr": "datum.value % 25 == 0 ? datum.label : ''",
                        "gridColor": {"condition": {"test": "datum.value % 25 != 0", "value": "#cccccc"}, "value": "#a8a8a8"},
                        "gridDash": {"condition": {"test": "datum.value % 25 != 0", "value": [2, 3]}, "value": []}}},
                    "y": {"field": "y", "type": "quantitative", "scale": {"domain": [0, 0.45], "nice": false, "zero": false},
                      "axis": {"title": "Δj at 0.45V (mAcm⁻²)", "titleFontSize": 27, "labelFontSize": 24, "ticks": false,
                        "values": [0, 0.05, 0.1, 0.15, 0.2, 0.25, 0.3, 0.35, 0.4, 0.45],
                        "labelExpr": "round(datum.value * 100) % 10 == 0 ? format(datum.value, '.1f') : ''",
                        "gridColor": {"condition": {"test": "round(datum.value * 100) % 10 != 0", "value": "#cccccc"}, "value": "#a8a8a8"},
                        "gridDash": {"condition": {"test": "round(datum.value * 100) % 10 != 0", "value": [2, 3]}, "value": []}}},
                    "color": {"field": "s", "type": "nominal",
                      "scale": {"domain": ["Mo / 500", "Mo / 700", "Mo / 800"], "range": ["#000000", "#ff0000", "#11ee11"]},
                      "legend": {"title": null, "orient": "top-left", "offset": 0, "padding": 4, "strokeColor": "black",
                        "fillColor": "white", "symbolSize": 220, "symbolOffset": 19, "labelOffset": 30, "labelFontSize": 21, "rowPadding": 7}},
                    "shape": {"field": "s", "type": "nominal",
                      "scale": {"domain": ["Mo / 500", "Mo / 700", "Mo / 800"], "range": ["square", "circle", "triangle-up"]},
                      "legend": {"title": null, "orient": "top-left", "offset": 0, "padding": 4, "strokeColor": "black",
                        "fillColor": "white", "symbolSize": 220, "symbolOffset": 19, "labelOffset": 30, "labelFontSize": 21, "rowPadding": 7}}
                  }
                },
                {
                  "data": {"name": "e_fit"},
                  "mark": {"type": "line", "strokeWidth": 3.5},
                  "encoding": {
                    "x": {"field": "x", "type": "quantitative"},
                    "y": {"field": "y", "type": "quantitative"},
                    "color": {"field": "s", "type": "nominal"}
                  }
                },
                {
                  "data": {"name": "e_cdl"},
                  "mark": {"type": "text", "text": "C", "font": "DejaVu Sans", "fontWeight": "bold", "fontSize": 28, "align": "left", "baseline": "alphabetic"},
                  "encoding": {
                    "x": {"field": "x", "type": "quantitative"},
                    "y": {"field": "y", "type": "quantitative"},
                    "color": {"field": "s", "type": "nominal"}
                  }
                },
                {
                  "data": {"name": "e_cdl"},
                  "mark": {"type": "text", "text": "dl", "font": "DejaVu Sans", "fontWeight": "bold", "fontSize": 17, "align": "left", "baseline": "alphabetic", "dx": 21, "dy": 7},
                  "encoding": {
                    "x": {"field": "x", "type": "quantitative"},
                    "y": {"field": "y", "type": "quantitative"},
                    "color": {"field": "s", "type": "nominal"}
                  }
                },
                {
                  "data": {"name": "e_cdl"},
                  "mark": {"type": "text", "font": "DejaVu Sans", "fontWeight": "bold", "fontSize": 28, "align": "left", "baseline": "alphabetic", "dx": 39},
                  "encoding": {
                    "x": {"field": "x", "type": "quantitative"},
                    "y": {"field": "y", "type": "quantitative"},
                    "color": {"field": "s", "type": "nominal"},
                    "text": {"field": "t"}
                  }
                },
                {
                  "data": {"values": [{"x": 137.8, "y": 0.4146, "t": "(e)"}]},
                  "mark": {"type": "text", "fontSize": 40, "align": "center", "baseline": "middle"},
                  "encoding": {
                    "x": {"field": "x", "type": "quantitative"},
                    "y": {"field": "y", "type": "quantitative"},
                    "text": {"field": "t"}
                  }
                }
              ]
            },
            {
              "width": 553, "height": 402,
              "layer": [
                {
                  "data": {"name": "f_cdl"},
                  "mark": {"type": "bar", "stroke": "#555555", "strokeWidth": 1},
                  "encoding": {
                    "x": {"field": "s", "type": "nominal", "sort": null,
                      "scale": {"domain": ["Mo-500", "Mo-700", "Mo-800"], "paddingInner": 0.2, "paddingOuter": 0.1},
                      "axis": {"title": null, "labelAngle": 0, "labelFontSize": 23, "labelPadding": 8}},
                    "y": {"field": "v", "type": "quantitative", "scale": {"domain": [0, 4], "nice": false, "zero": false},
                      "axis": {"title": "Cdl (mFcm⁻²)", "titleFontSize": 30, "grid": false,
                        "values": [0, 0.5, 1, 1.5, 2, 2.5, 3, 3.5, 4],
                        "labelExpr": "datum.value % 1 == 0 ? format(datum.value, 'd') : ''",
                        "tickSize": {"condition": {"test": "datum.value % 1 != 0", "value": 5}, "value": 9}}},
                    "color": {"field": "s", "type": "nominal",
                      "scale": {"domain": ["Mo-500", "Mo-700", "Mo-800"], "range": ["#3e0808", "#f02c0c", "#2ce03a"]},
                      "legend": null}
                  }
                },
                {
                  "data": {"name": "f_cdl"},
                  "mark": {"type": "line", "color": "black", "strokeDash": [6, 4], "strokeWidth": 1.2, "interpolate": "monotone"},
                  "encoding": {
                    "x": {"field": "s", "type": "nominal", "sort": null},
                    "y": {"field": "m", "type": "quantitative"}
                  }
                },
                {
                  "data": {"name": "f_cdl"},
                  "mark": {"type": "point", "shape": "diamond", "filled": true, "color": "black", "opacity": 1, "size": 130},
                  "encoding": {
                    "x": {"field": "s", "type": "nominal", "sort": null},
                    "y": {"field": "m", "type": "quantitative"}
                  }
                },
                {
                  "data": {"name": "f_cdl"},
                  "mark": {"type": "text", "fontSize": 24, "align": "center", "baseline": "middle", "dy": -50},
                  "encoding": {
                    "x": {"field": "s", "type": "nominal", "sort": null},
                    "y": {"field": "m", "type": "quantitative"},
                    "text": {"field": "lbl"}
                  }
                },
                {
                  "data": {"values": [{"s": "Mo-500", "y": 3.58, "t": "(f)"}]},
                  "mark": {"type": "text", "fontSize": 40, "align": "center", "baseline": "middle", "dx": -57},
                  "encoding": {
                    "x": {"field": "s", "type": "nominal", "sort": null},
                    "y": {"field": "y", "type": "quantitative"},
                    "text": {"field": "t"}
                  }
                }
              ]
            }
          ],
          "spacing": 109,
          "bounds": "flush",
          "resolve": {"scale": {"color": "independent", "shape": "independent"}, "legend": {"color": "independent", "shape": "independent"}}
        }
      ],
      "spacing": 0,
      "bounds": "flush",
      "resolve": {"scale": {"color": "independent", "shape": "independent"}, "legend": {"color": "independent", "shape": "independent"}}
    }
  ],
  "spacing": 30,
  "bounds": "full",
  "resolve": {"scale": {"color": "independent", "shape": "independent"}, "legend": {"color": "independent", "shape": "independent"}}
}
